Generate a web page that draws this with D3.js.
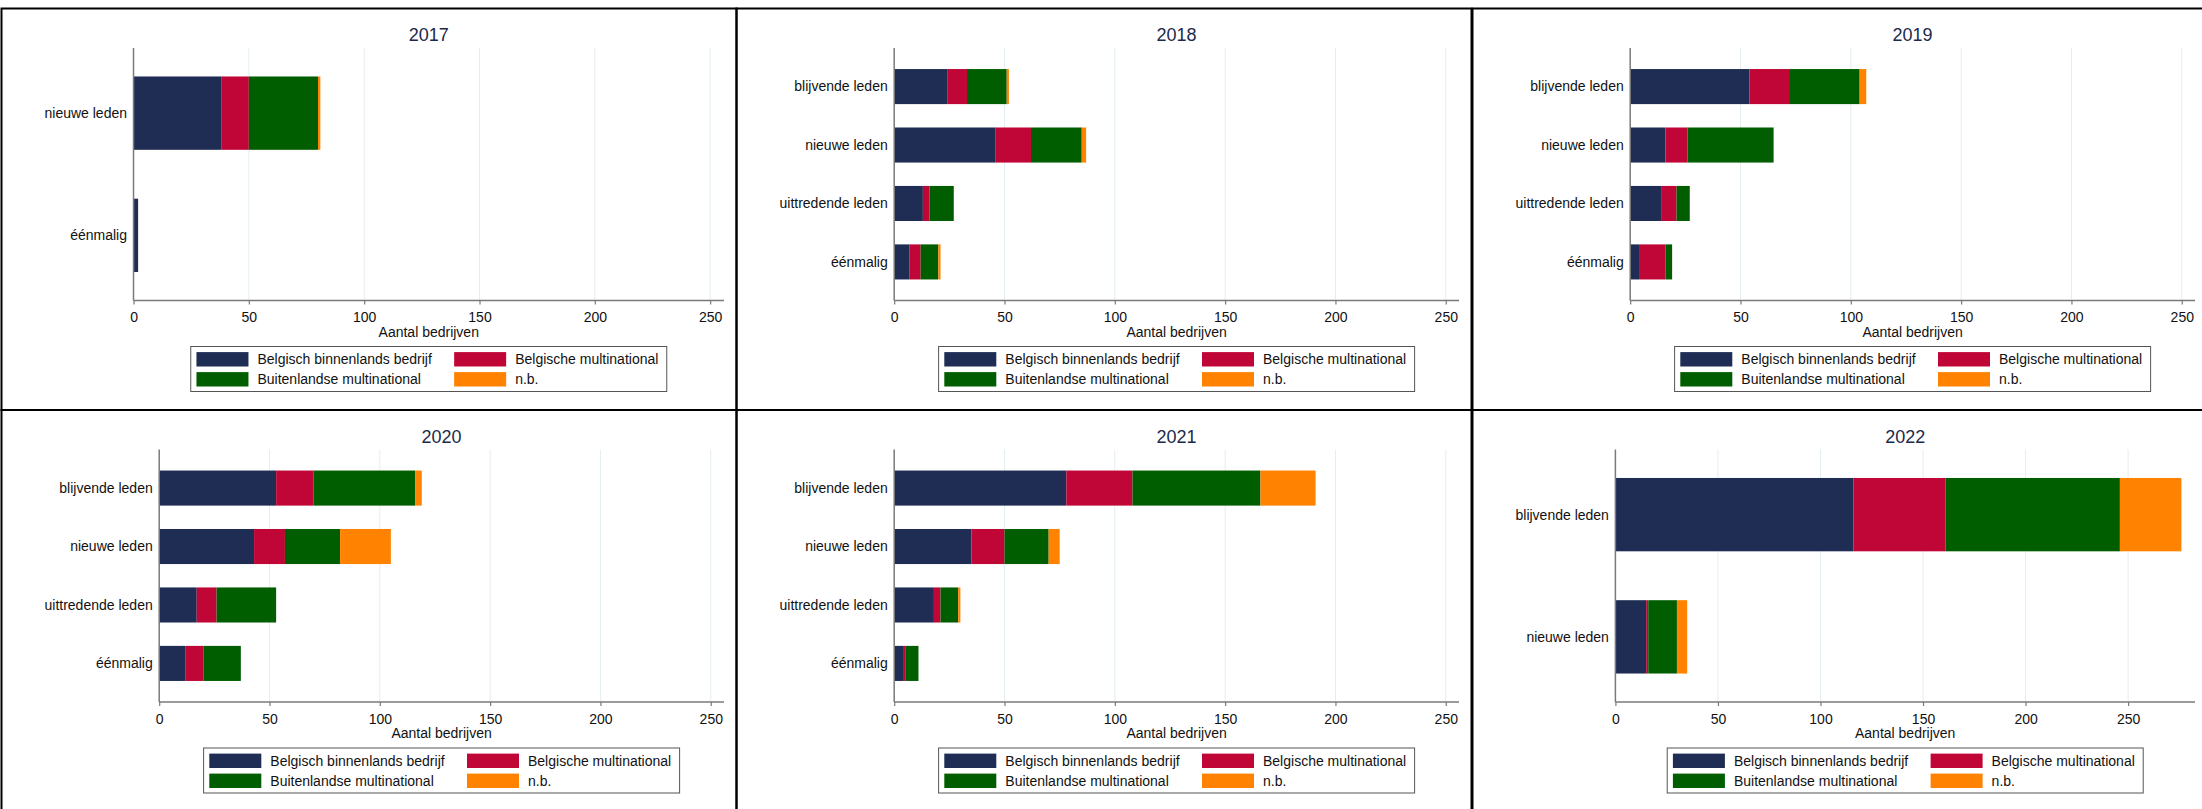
<!DOCTYPE html>
<html>
<head>
<meta charset="utf-8">
<script src="https://cdn.jsdelivr.net/npm/d3@7/dist/d3.min.js"></script>
<style>
  html, body { margin: 0; padding: 0; background: #fff; }
  svg { display: block; }
  text { font-family: "Liberation Sans", Arial, sans-serif; }
</style>
</head>
<body>
<svg id="chart" width="2202" height="809"></svg>
<script>
// ---------- data ----------
const years = ["2017", "2018", "2019", "2020", "2021", "2022"];
const categories2017 = ["nieuwe leden", "éénmalig"];
const categoriesFull = ["blijvende leden", "nieuwe leden", "uittredende leden", "éénmalig"];
const categories2022 = ["blijvende leden", "nieuwe leden"];
const yearCategories = [categories2017, categoriesFull, categoriesFull, categoriesFull, categoriesFull, categories2022];

const seriesNames = ["Belgisch binnenlands bedrijf", "Belgische multinational", "Buitenlandse multinational", "n.b."];
// values per year (arrays aligned with that year's categories)
const belgischBinnenlands = [[38, 2], [24, 46, 13, 7], [54, 16, 14, 4], [53, 43, 17, 12], [78, 35, 18, 4], [116, 15]];
const belgischeMultinational = [[12, 0], [9, 16, 3, 5], [18, 10, 7, 12], [17, 14, 9, 8], [30, 15, 3, 1], [45, 1]];
const buitenlandseMultinational = [[30, 0], [18, 23, 11, 8], [32, 39, 6, 3], [46, 25, 27, 17], [58, 20, 8, 6], [85, 14]];
const nietBekend = [[1, 0], [1, 2, 0, 1], [3, 0, 0, 0], [3, 23, 0, 0], [25, 5, 1, 0], [30, 5]];
const seriesValues = [belgischBinnenlands, belgischeMultinational, buitenlandseMultinational, nietBekend];

const xTicks = [0, 50, 100, 150, 200, 250];
const xTitle = "Aantal bedrijven";
const colors = ["#1f2d55", "#c00637", "#005e00", "#ff8200"];

// ---------- layout ----------
const svg = d3.select("#chart");
const panelLefts = [1.5, 736.5, 1472.5];
const panelTops = [8.5, 410];
const panelW = 735, panelH = 401.5;

// panel frames
years.forEach((yr, i) => {
  const L = panelLefts[i % 3], T = panelTops[Math.floor(i / 3)];
  svg.append("rect").attr("x", L).attr("y", T).attr("width", panelW).attr("height", panelH)
    .attr("fill", "none").attr("stroke", "#000").attr("stroke-width", 2);
});

years.forEach((yr, i) => {
  const L = panelLefts[i % 3], T = panelTops[Math.floor(i / 3)];
  const cats = yearCategories[i];
  const g = svg.append("g");

  // rows for stacking
  const rows = cats.map((c, j) => {
    const r = { cat: c };
    seriesNames.forEach((s, k) => { r[s] = seriesValues[k][i][j]; });
    return r;
  });
  const stacked = d3.stack().keys(seriesNames)(rows);
  const maxTotal = d3.max(rows, r => d3.sum(seriesNames, s => r[s]));

  // measure category labels
  const tmp = g.append("g").attr("font-size", 14);
  let maxW = 0;
  cats.forEach(c => {
    const t = tmp.append("text").text(c);
    maxW = Math.max(maxW, t.node().getComputedTextLength());
  });
  tmp.remove();

  const plotTop = T + 39.5, plotBottom = T + 292;
  const axisLeft = L + 43 + maxW + 6.5;
  const plotRight = L + 722.5;

  const x = d3.scaleLinear().domain([0, Math.max(250, maxTotal) * 1.024]).range([axisLeft, plotRight]);
  const y = d3.scaleBand().domain(cats).range([plotTop, plotBottom])
    .paddingInner(0.4).paddingOuter(cats.length === 2 ? 0.233 : 0.36);

  // grid
  g.append("g").selectAll("line").data(xTicks.filter(d => d > 0)).join("line")
    .attr("x1", d => x(d)).attr("x2", d => x(d))
    .attr("y1", plotTop).attr("y2", plotBottom)
    .attr("stroke", "#e4eef0").attr("stroke-width", 1);

  // bars
  g.append("g").selectAll("g").data(stacked).join("g")
    .attr("fill", (d, k) => colors[k])
    .selectAll("rect").data(d => d.filter(p => p[1] - p[0] > 0)).join("rect")
    .attr("x", d => x(d[0]))
    .attr("width", d => x(d[1]) - x(d[0]))
    .attr("y", d => y(d.data.cat))
    .attr("height", y.bandwidth());

  // x axis
  const xAxis = d3.axisBottom(x).tickValues(xTicks).tickSize(4).tickPadding(8).tickSizeOuter(0);
  const ax = g.append("g").attr("transform", `translate(0,${plotBottom})`).call(xAxis);
  ax.select(".domain").attr("stroke", "#7a7a7a").attr("stroke-width", 1.5)
    .attr("d", `M${axisLeft},0H${plotRight}`);
  ax.selectAll(".tick line").attr("stroke", "#7a7a7a").attr("stroke-width", 1.2);
  ax.selectAll(".tick text").attr("font-size", 14).attr("fill", "#111")
    .attr("font-family", "'Liberation Sans', Arial, sans-serif");

  // y axis line
  g.append("line").attr("x1", axisLeft).attr("x2", axisLeft)
    .attr("y1", plotTop).attr("y2", plotBottom)
    .attr("stroke", "#7a7a7a").attr("stroke-width", 1.5);

  // category labels
  g.append("g").selectAll("text").data(cats).join("text")
    .attr("x", axisLeft - 6.5).attr("y", d => y(d) + y.bandwidth() / 2)
    .attr("dy", "0.35em").attr("text-anchor", "end")
    .attr("font-size", 14).attr("fill", "#111").text(d => d);

  const cx = (axisLeft + plotRight) / 2;
  // title
  g.append("text").attr("x", cx).attr("y", T + 26.5).attr("dy", "0.36em")
    .attr("text-anchor", "middle").attr("font-size", 18).attr("fill", "#1c2a4a").text(yr);
  // x title
  g.append("text").attr("x", cx).attr("y", T + 323).attr("dy", "0.36em")
    .attr("text-anchor", "middle").attr("font-size", 14).attr("fill", "#111").text(xTitle);

  // legend
  const bw = 476, bh = 45;
  const bx = cx - bw / 2, by = T + 338;
  const lg = g.append("g");
  lg.append("rect").attr("x", bx).attr("y", by).attr("width", bw).attr("height", bh)
    .attr("fill", "#fff").attr("stroke", "#555").attr("stroke-width", 1);
  const colX = [5.7, 263.4];
  const rowY = [5.6, 25.6];
  seriesNames.forEach((s, k) => {
    const c = k % 2, r = Math.floor(k / 2);
    lg.append("rect").attr("x", bx + colX[c]).attr("y", by + rowY[r])
      .attr("width", 52).attr("height", 14.4).attr("fill", colors[k]);
    lg.append("text").attr("x", bx + colX[c] + 61).attr("y", by + rowY[r] + 7.2)
      .attr("dy", "0.35em").attr("font-size", 14).attr("fill", "#111").text(s);
  });
});
</script>
</body>
</html>
